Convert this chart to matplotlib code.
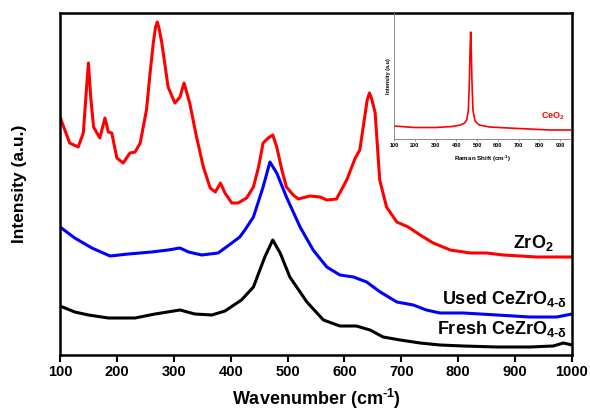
import matplotlib
matplotlib.use("Agg")
import matplotlib.pyplot as plt
import numpy as np

plt.rcParams['font.family'] = ['Liberation Sans', 'DejaVu Sans']
plt.rcParams['font.weight'] = 'bold'
plt.rcParams['mathtext.fontset'] = 'custom'
plt.rcParams['mathtext.rm'] = 'Liberation Sans:bold'
plt.rcParams['mathtext.it'] = 'Liberation Sans:bold'
plt.rcParams['mathtext.bf'] = 'Liberation Sans:bold'
plt.rcParams['mathtext.default'] = 'rm'

# ---- data (wavenumber, intensity in arbitrary units) ----
zro2_w = [100, 117, 132, 141, 146, 150, 154, 159, 170, 179, 185, 191, 200, 211, 223, 232, 241,
          252, 258, 264, 268, 271, 274, 279, 290, 302, 311, 318, 328, 340, 352, 364, 373, 382, 390, 402,
          413, 428, 440, 449, 457, 466, 474, 481, 490, 498, 510, 519, 539, 557, 569, 586, 604,
          619, 627, 633, 640, 644, 648, 654, 662, 674, 692, 712, 733, 756, 786, 821, 850, 879,
          909, 938, 970, 1000]
zro2_i = [238, 212, 208, 222, 262, 292, 258, 228, 217, 237, 223, 222, 197, 192, 202, 203, 212,
          245, 280, 312, 328, 333, 327, 312, 268, 252, 258, 272, 252, 218, 188, 167, 163, 172, 162, 152,
          152, 157, 168, 188, 212, 217, 220, 208, 185, 168, 160, 156, 159, 158, 155, 156, 175,
          197, 205, 228, 255, 262, 256, 242, 175, 148, 133, 128, 120, 112, 105, 102, 102, 100,
          99, 98, 98, 98]

used_w = [100, 126, 156, 188, 220, 261, 290, 311, 326, 349, 378, 402, 416, 425, 440, 457, 469,
          481, 498, 522, 545, 569, 592, 616, 639, 663, 692, 721, 744, 768, 809, 868, 926, 973, 1000]
used_i = [128, 117, 107, 99, 101, 103, 105, 107, 103, 100, 102, 112, 118, 125, 138, 168, 193,
          182, 158, 128, 105, 88, 80, 78, 73, 63, 53, 50, 45, 42, 42, 40, 38, 38, 41]

fresh_w = [100, 126, 150, 185, 232, 267, 311, 337, 367, 390, 419, 440, 460, 474, 487, 504, 534,
           563, 592, 621, 645, 668, 698, 733, 768, 809, 868, 926, 967, 985, 1000]
fresh_i = [49, 43, 40, 37, 37, 41, 45, 41, 40, 44, 55, 68, 98, 115, 102, 78, 53,
           35, 29, 29, 25, 18, 15, 12, 10, 9, 8, 8, 9, 12, 10]

ceo2_w = [100, 200, 300, 380, 420, 440, 450, 458, 463, 466, 469, 472, 475, 480, 490, 510, 560,
          650, 750, 850, 950]
ceo2_i = [13, 11.5, 11.5, 12.5, 14, 16, 19, 29, 59, 89, 107, 89, 59, 29, 18, 14, 12,
          11, 10, 9, 9]

main_ticks = [100, 200, 300, 400, 500, 600, 700, 800, 900, 1000]
inset_ticks = [100, 200, 300, 400, 500, 600, 700, 800, 900]

fig = plt.figure(figsize=(5.9, 4.11), dpi=100)
ax = fig.add_axes([60/590, 1-355/411, 512/590, 342/411])

lw = 2.2
ax.plot(zro2_w, zro2_i, color='#ff0000', lw=lw, solid_joinstyle='round')
ax.plot(used_w, used_i, color='#0000ff', lw=lw, solid_joinstyle='round')
ax.plot(fresh_w, fresh_i, color='#000000', lw=lw, solid_joinstyle='round')

ax.set_xlim(100, 1000)
ax.set_ylim(0, 342)
ax.set_xticks(main_ticks)
ax.set_xticklabels([str(t) for t in main_ticks])
ax.set_yticks([])
ax.tick_params(axis='x', direction='out', length=5, width=1.5, labelsize=10.5, pad=2)
for lab in ax.get_xticklabels():
    lab.set_fontweight('bold')
for s in ax.spines.values():
    s.set_linewidth(1.8)
ax.set_xlabel('Wavenumber (cm$^{\\text{-}1}$)', fontsize=13, fontweight='bold', labelpad=6)
ax.set_ylabel('Intensity (a.u.)', fontsize=12.5, fontweight='bold', labelpad=24)

ax.text(967, 107, 'ZrO$_2$', fontsize=13, fontweight='bold', ha='right', va='baseline')
ax.text(991, 51, 'Used CeZrO$_{4\\text{-}\\delta}$', fontsize=13, fontweight='bold', ha='right', va='baseline')
ax.text(991, 21, 'Fresh CeZrO$_{4\\text{-}\\delta}$', fontsize=13, fontweight='bold', ha='right', va='baseline')

# ---- inset ----
axi = fig.add_axes([394/590, 1-139/411, (571-394)/590, (139-13)/411])
axi.set_facecolor('none')
axi.plot(ceo2_w, ceo2_i, color='#ff0000', lw=1.2)
axi.set_xlim(100, 952)
axi.set_ylim(0, 126)
axi.set_xticks(inset_ticks)
axi.set_xticklabels([str(t) for t in inset_ticks])
axi.set_yticks([])
axi.spines['top'].set_visible(False)
axi.spines['right'].set_visible(False)
axi.spines['left'].set_color('#777777')
axi.spines['bottom'].set_color('#777777')
axi.spines['left'].set_linewidth(0.6)
axi.spines['bottom'].set_linewidth(0.6)
axi.tick_params(axis='x', direction='out', length=1.5, width=0.5, labelsize=4, pad=1.5, color='#777777')
axi.set_xlabel('Raman Shift (cm$^{\\text{-}1}$)', fontsize=4.5, fontweight='bold', labelpad=4)
axi.set_ylabel('Intensity (a.u)', fontsize=4, fontweight='bold', labelpad=2)
axi.text(865, 17, 'CeO$_2$', fontsize=6.5, fontweight='bold', color='#ff0000', ha='center', va='bottom')

fig.savefig('out.png', dpi=100)
